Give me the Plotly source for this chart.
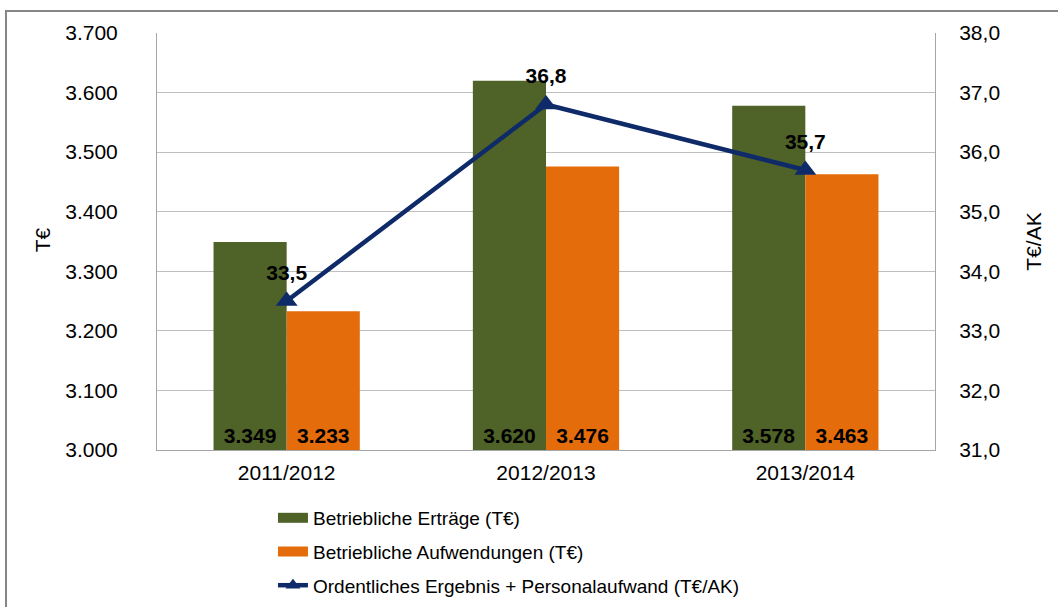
import plotly.graph_objects as go

jahre = ["2011/2012", "2012/2013", "2013/2014"]
ertraege = [3349, 3620, 3578]
aufwendungen = [3233, 3476, 3463]
ergebnis_ak = [33.5, 36.8, 35.7]

Y_MIN = 3000  # Achsenbeginn der linken Achse

FONT = "Liberation Sans, Arial, sans-serif"
GRUEN = "#4F6228"
ORANGE = "#E46C0A"
BLAU = "#0F2A68"


def de(v):
    return f"{v:,}".replace(",", ".")


label_font = dict(family=FONT, size=21, color="black", weight="bold")

fig = go.Figure()

# Balken ab der Achsenbasis, damit die Werte unten im Balken stehen
fig.add_trace(go.Bar(
    x=jahre, y=[v - Y_MIN for v in ertraege], base=Y_MIN,
    name="Betriebliche Erträge (T€)", showlegend=False,
    marker=dict(color=GRUEN, line=dict(width=0)),
    text=[de(v) for v in ertraege], texttemplate="%{text}",
    textposition="inside", insidetextanchor="start", textangle=0,
    textfont=label_font,
))
fig.add_trace(go.Bar(
    x=jahre, y=[v - Y_MIN for v in aufwendungen], base=Y_MIN,
    name="Betriebliche Aufwendungen (T€)", showlegend=False,
    marker=dict(color=ORANGE, line=dict(width=0)),
    text=[de(v) for v in aufwendungen], texttemplate="%{text}",
    textposition="inside", insidetextanchor="start", textangle=0,
    textfont=label_font,
))
fig.add_trace(go.Scatter(
    x=jahre, y=ergebnis_ak, yaxis="y2",
    name="Ordentliches Ergebnis + Personalaufwand (T€/AK)", showlegend=False,
    mode="lines+markers",
    line=dict(color=BLAU, width=4.5),
    marker=dict(symbol="triangle-up", size=19, color=BLAU),
))
# Werte der Linie etwas höher über den Markern
fig.add_trace(go.Scatter(
    x=jahre, y=ergebnis_ak, yaxis="y2", showlegend=False, hoverinfo="skip",
    mode="markers+text",
    marker=dict(size=24, color="rgba(0,0,0,0)"),
    texttemplate="%{y:.1f}", textposition="top center",
    textfont=label_font,
))

# Legendeneinträge (breite Balkensymbole wie im Original)
fig.add_trace(go.Scatter(x=[None], y=[None], mode="lines", name="Betriebliche Erträge (T€)",
                         line=dict(color=GRUEN, width=10), legendgroup="a"))
fig.add_trace(go.Scatter(x=[None], y=[None], mode="lines", name="Betriebliche Aufwendungen (T€)",
                         line=dict(color=ORANGE, width=10), legendgroup="b"))
fig.add_trace(go.Scatter(x=[None], y=[None], mode="lines+markers",
                         name="Ordentliches Ergebnis + Personalaufwand (T€/AK)",
                         line=dict(color=BLAU, width=4.5),
                         marker=dict(symbol="triangle-up", size=13, color=BLAU),
                         legendgroup="c"))

fig.update_layout(
    width=1058, height=607,
    margin=dict(l=157, r=123, t=33, b=157, autoexpand=False),
    paper_bgcolor="white", plot_bgcolor="white",
    separators=",.",
    font=dict(family=FONT, size=21, color="black"),
    barmode="group", bargap=0.436, bargroupgap=0,
    xaxis=dict(showline=True, linecolor="#A6A6A6", linewidth=1, ticks="",
               tickfont=dict(size=21), ticklabelstandoff=4, automargin=False),
    yaxis=dict(range=[3000, 3700], dtick=100, tickformat=",.0f",
               showgrid=True, gridcolor="#BFBFBF", gridwidth=1,
               showline=True, linecolor="#A6A6A6", zeroline=False,
               ticks="outside", ticklen=34, tickcolor="rgba(0,0,0,0)",
               automargin=False, tickfont=dict(size=21)),
    yaxis2=dict(range=[31, 38], dtick=1, tickformat=".1f", overlaying="y",
                side="right", showgrid=False, showline=True,
                linecolor="#A6A6A6", zeroline=False,
                ticks="outside", ticklen=19, tickcolor="rgba(0,0,0,0)",
                automargin=False,
                title=dict(text="T€/AK", font=dict(size=21), standoff=27),
                tickfont=dict(size=21)),
    legend=dict(xref="container", yref="container", x=0.258, y=0.178,
                xanchor="left", yanchor="top",
                orientation="v", traceorder="grouped", tracegroupgap=6,
                font=dict(size=19), bgcolor="rgba(0,0,0,0)"),
    showlegend=True,
)

# Titel der linken Achse
fig.add_annotation(text="T€", xref="paper", yref="paper", x=-0.1478, y=0.503,
                   textangle=-90, showarrow=False, font=dict(size=21),
                   xanchor="center", yanchor="middle")

fig.add_shape(type="rect", xref="paper", yref="paper",
              x0=-0.1941, x1=1.5, y0=-1.0, y1=1.0528,
              line=dict(color="#868686", width=2), layer="below")

fig.write_html("out.html", config={"displayModeBar": False},
               post_script="document.body.style.margin = '0';")
